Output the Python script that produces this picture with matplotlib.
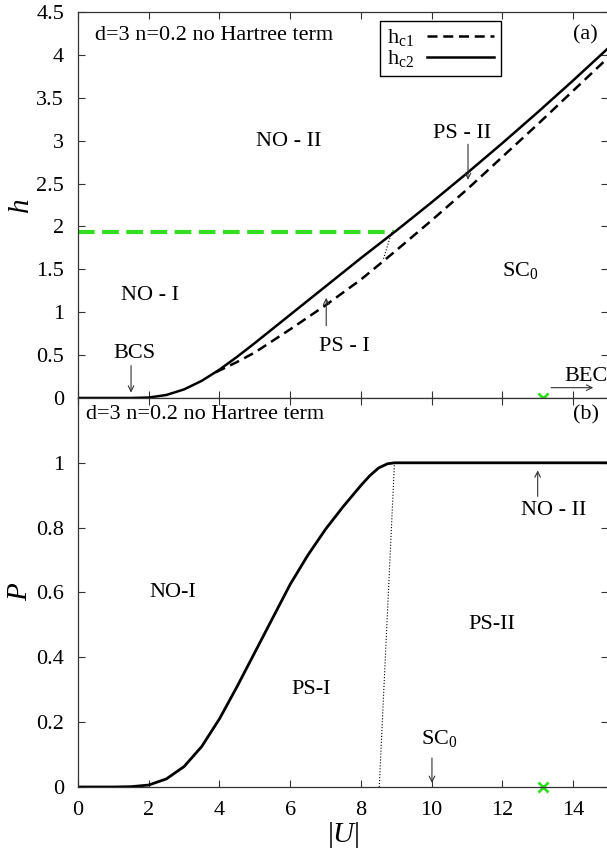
import matplotlib
matplotlib.use('Agg')
import matplotlib.pyplot as plt

plt.rcParams['font.family'] = ['Liberation Serif', 'DejaVu Serif']
plt.rcParams['mathtext.fontset'] = 'custom'
plt.rcParams['mathtext.rm'] = 'Liberation Serif'
plt.rcParams['mathtext.it'] = 'Liberation Serif:italic'

# panel (a): critical fields
U_c2 = [0, 1.0, 1.5, 2.0, 2.5, 3.0, 3.5, 4.0, 4.5, 5.0, 6.0, 7.0, 8.0, 9.0, 10.0, 11.0, 12.0, 13.0, 14.0, 15.0]
h_c2 = [0, 0, 0, 0.005, 0.035, 0.10, 0.20, 0.33, 0.48, 0.64, 0.97, 1.30, 1.63, 1.95, 2.28, 2.62, 2.97, 3.33, 3.70, 4.08]
U_c1 = [3.9, 4.5, 5.0, 6.0, 7.0, 8.0, 8.62, 9.0, 10.0, 11.0, 12.0, 13.0, 14.0, 15.0]
h_c1 = [0.30, 0.42, 0.53, 0.80, 1.08, 1.38, 1.59, 1.72, 2.07, 2.43, 2.81, 3.19, 3.58, 3.97]
green_h = 1.94
green_U = [0, 8.95]
dot_a_U = [8.87, 8.63]
dot_a_h = [1.93, 1.61]

# panel (b): polarization
U_p = [0, 1.0, 1.5, 2.0, 2.5, 3.0, 3.5, 4.0, 4.5, 5.0, 5.5, 6.0, 6.5, 7.0, 7.5,
       8.0, 8.25, 8.5, 8.75, 8.95, 15.0]
P = [0, 0, 0.001, 0.006, 0.025, 0.063, 0.125, 0.21, 0.31, 0.415, 0.52, 0.625, 0.715, 0.795, 0.865,
     0.93, 0.96, 0.984, 0.997, 1.0, 1.0]
dot_b_U = [8.52, 8.95]
dot_b_P = [0.0, 1.0]
cross_U = 13.15

xticks = [0, 2, 4, 6, 8, 10, 12, 14]
hticks = [0, 0.5, 1, 1.5, 2, 2.5, 3, 3.5, 4, 4.5]
hlabels = ['0', '0.5', '1', '1.5', '2', '2.5', '3', '3.5', '4', '4.5']
pticks = [0, 0.2, 0.4, 0.6, 0.8, 1]
plabels = ['0', '0.2', '0.4', '0.6', '0.8', '1']

FS = 16
green = '#33dd22'

fig = plt.figure(figsize=(6.07, 8.52), dpi=100)
ax1 = fig.add_axes([0.1285, 0.5329, 0.8738, 0.4531])
ax2 = fig.add_axes([0.1285, 0.0763, 0.8738, 0.4566])

for ax in (ax1, ax2):
    ax.set_xlim(0, 15)
    ax.set_xticks(xticks)
    ax.tick_params(direction='in', top=True, right=True, length=5, width=0.8,
                   labelsize=FS, pad=10, color='#333333')
    for s in ax.spines.values():
        s.set_linewidth(0.9)
        s.set_color('#333333')

# ---- (a)
ax1.set_ylim(0, 4.5)
ax1.set_yticks(hticks)
ax1.set_yticklabels(hlabels)
ax1.set_xticklabels([])
ax1.plot(green_U, [green_h, green_h], color=green, lw=3, dashes=(4, 1.8))
ax1.plot(U_c1, h_c1, 'k', lw=1.8, dashes=(4, 2.3), label=r'h$_{\mathrm{c1}}$',
         solid_joinstyle='round')
ax1.plot(U_c2, h_c2, 'k', lw=1.8, label=r'h$_{\mathrm{c2}}$', solid_joinstyle='round')
ax1.plot(dot_a_U, dot_a_h, 'k', lw=0.8, ls=':')
ax1.plot([cross_U], [0], 'x', color=green, ms=7, mew=2)
ax1.set_ylabel('h', fontsize=21, style='italic', labelpad=2)

ax1.legend(loc='upper left', bbox_to_anchor=(0.57, 0.977), markerfirst=False,
           fontsize=FS, handlelength=3.0, labelspacing=0.0, borderpad=0.3,
           handletextpad=0.6, fancybox=False, edgecolor='black', framealpha=1,
           borderaxespad=0)

ax1.text(0.49, 4.23, 'd=3 n=0.2 no Hartree term', fontsize=FS, va='center')
ax1.text(14.34, 4.23, '(a)', fontsize=FS, va='center', ha='center')
ax1.text(5.95, 2.99, 'NO - II', fontsize=FS, va='center', ha='center')
ax1.text(2.05, 1.20, 'NO - I', fontsize=FS, va='center', ha='center')
ax1.text(12.0, 1.49, r'SC$_0$', fontsize=FS, va='center')
ax1.text(10.85, 3.08, 'PS - II', fontsize=FS, va='center', ha='center')
ax1.annotate('', xy=(11.03, 2.51), xytext=(11.03, 2.99),
             arrowprops=dict(arrowstyle='->', lw=0.8, color='#333333'))
ax1.text(7.53, 0.60, 'PS - I', fontsize=FS, va='center', ha='center')
ax1.annotate('', xy=(7.02, 1.20), xytext=(7.02, 0.81),
             arrowprops=dict(arrowstyle='->', lw=0.8, color='#333333'))
ax1.text(1.6, 0.52, 'BCS', fontsize=FS, va='center', ha='center')
ax1.annotate('', xy=(1.5, 0.03), xytext=(1.5, 0.41),
             arrowprops=dict(arrowstyle='->', lw=0.8, color='#333333'))
ax1.text(13.75, 0.25, 'BEC', fontsize=FS, va='center')
ax1.annotate('', xy=(14.65, 0.12), xytext=(13.3, 0.12),
             arrowprops=dict(arrowstyle='->', lw=0.8, color='#333333'))

# ---- (b)
ax2.set_ylim(0, 1.2)
ax2.set_yticks(pticks)
ax2.set_yticklabels(plabels)
ax2.set_xticklabels([str(t) for t in xticks])
ax2.plot(U_p, P, 'k', lw=2, solid_joinstyle='round')
ax2.plot(dot_b_U, dot_b_P, 'k', lw=0.8, ls=':')
ax2.plot([cross_U], [0], 'x', color=green, ms=7, mew=2, clip_on=False)
ax2.set_ylabel('P', fontsize=21, style='italic', labelpad=2)
ax2.set_xlabel(r'$|U|$', fontsize=21, labelpad=0)

ax2.text(0.24, 1.149, 'd=3 n=0.2 no Hartree term', fontsize=FS, va='center')
ax2.text(14.38, 1.149, '(b)', fontsize=FS, va='center', ha='center')
ax2.text(13.46, 0.852, 'NO - II', fontsize=FS, va='center', ha='center')
ax2.annotate('', xy=(13.0, 0.985), xytext=(13.0, 0.888),
             arrowprops=dict(arrowstyle='->', lw=0.8, color='#333333'))
ax2.text(2.69, 0.60, 'NO-I', fontsize=FS, va='center', ha='center')
ax2.text(11.69, 0.50, 'PS-II', fontsize=FS, va='center', ha='center')
ax2.text(6.6, 0.30, 'PS-I', fontsize=FS, va='center', ha='center')
ax2.text(10.23, 0.15, r'SC$_0$', fontsize=FS, va='center', ha='center')
ax2.annotate('', xy=(10.01, 0.004), xytext=(10.01, 0.098),
             arrowprops=dict(arrowstyle='->', lw=0.8, color='#333333'))

fig.savefig('out.png', dpi=100)
